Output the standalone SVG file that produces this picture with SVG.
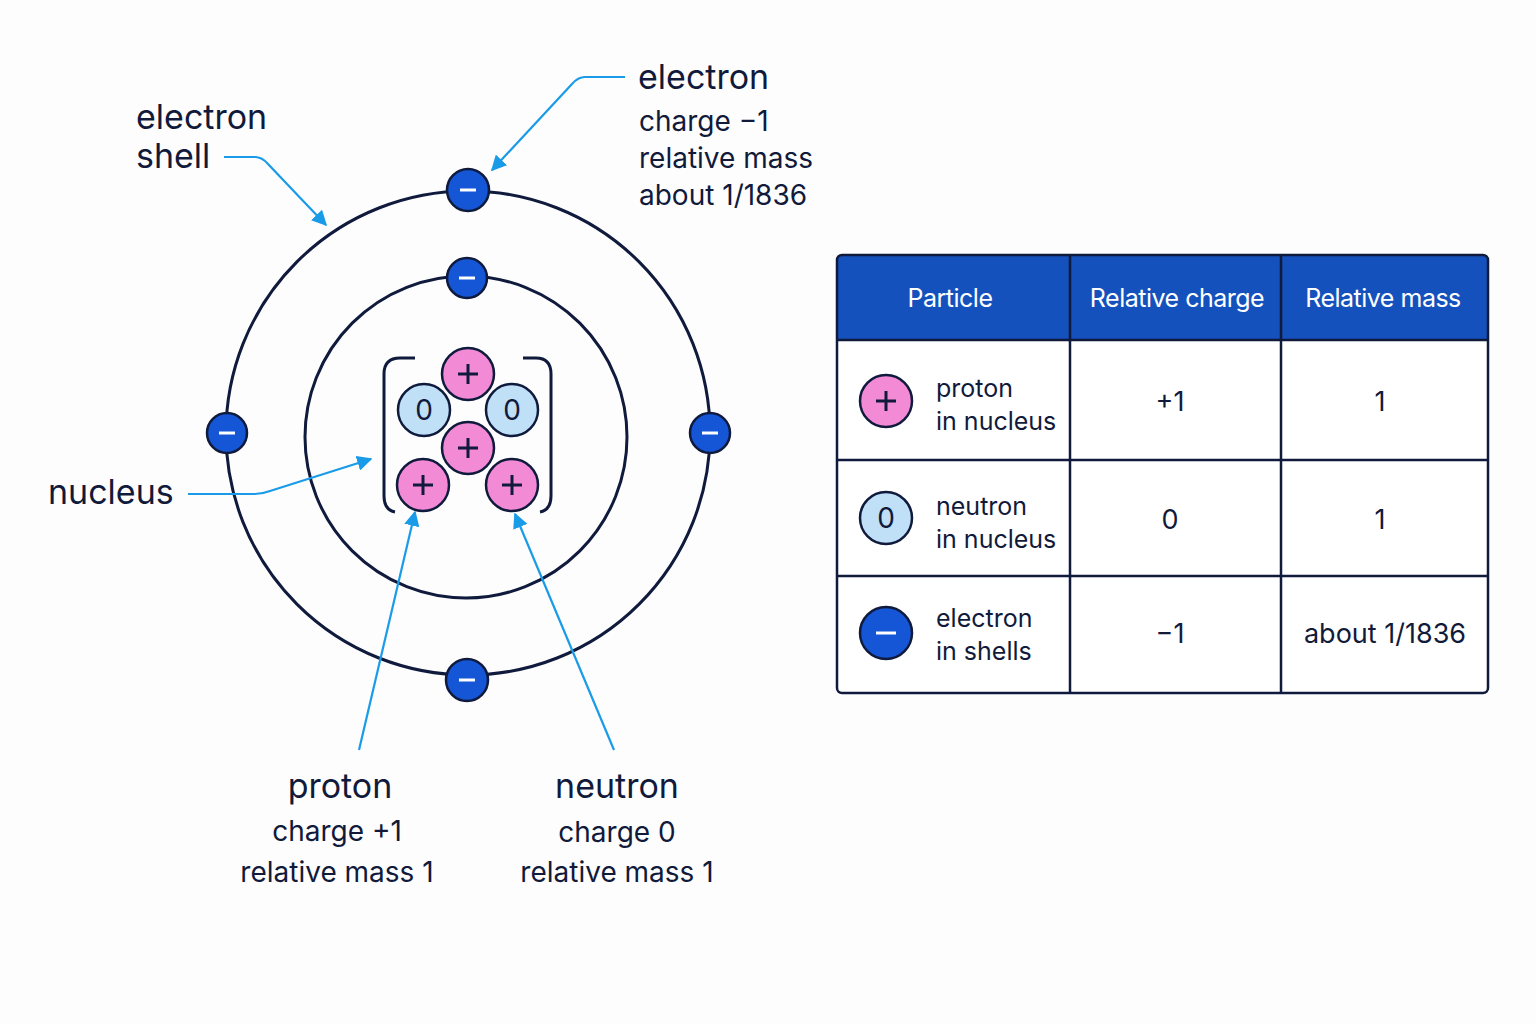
<svg xmlns="http://www.w3.org/2000/svg" width="1536" height="1024" viewBox="0 0 1536 1024">
<defs>
<marker id="ah" viewBox="0 0 10 10" refX="9" refY="5" markerWidth="7" markerHeight="7" orient="auto"><path d="M0,0 L10,5 L0,10 z" fill="#1a9be8"/></marker>
<style>
text{font-family:Inter,"Noto Sans",sans-serif;fill:#111a3a}
.t{font-size:34px}
.s{font-size:28px}
.orb{fill:none;stroke:#0f1a3c;stroke-width:3}
.el{fill:#1456d6;stroke:#0f1a3c;stroke-width:2.5}
.pr{fill:#f28ad6;stroke:#0f1a3c;stroke-width:2.5}
.ne{fill:#bfe0f7;stroke:#0f1a3c;stroke-width:2.5}
.sym{stroke:#0f1a3c;stroke-width:3;fill:none}
.plus{stroke:#111a3a;stroke-width:3}
.wsym{stroke:#fff;stroke-width:3}
.ptxt{font-size:28px;text-anchor:middle}
.con{fill:none;stroke:#1a9be8;stroke-width:2.2;marker-end:url(#ah)}
.grid{stroke:#0f1a3c;stroke-width:2.5;fill:none}
.hd{font-size:25px;fill:#fff;text-anchor:middle;letter-spacing:-0.5px}
.cell{font-size:27px;text-anchor:middle}
.lab{font-size:25px}
</style>
<path id="pl" d="M-10,0 H10 M0,-10 V10"/>
</defs>
<rect width="1536" height="1024" fill="#fdfdfe"/>
<g id="orbits">
<circle class="orb" cx="468" cy="433" r="242"/>
<circle class="orb" cx="466" cy="437" r="161"/>
</g>
<g id="electrons">
<circle class="el" cx="468" cy="190" r="21"/><line class="wsym" x1="460" y1="190" x2="476" y2="190"/>
<circle class="el" cx="467" cy="278" r="20"/><line class="wsym" x1="459" y1="278" x2="475" y2="278"/>
<circle class="el" cx="227" cy="433" r="20"/><line class="wsym" x1="219" y1="433" x2="235" y2="433"/>
<circle class="el" cx="710" cy="433" r="20"/><line class="wsym" x1="702" y1="433" x2="718" y2="433"/>
<circle class="el" cx="467" cy="680" r="21"/><line class="wsym" x1="459" y1="680" x2="475" y2="680"/>
</g>
<g id="nucleus">
<path class="sym" d="M415,358 L400,358 Q384,358 384,374 L384,496 Q384,510 395,512"/>
<path class="sym" d="M523,358 L536,358 Q551,358 551,374 L551,496 Q551,510 540,512"/>
<circle class="pr" cx="468" cy="374" r="26"/><use href="#pl" class="plus" x="468" y="374"/>
<circle class="ne" cx="424" cy="410" r="26"/><text class="ptxt" x="424" y="420">0</text>
<circle class="ne" cx="512" cy="410" r="26"/><text class="ptxt" x="512" y="420">0</text>
<circle class="pr" cx="468" cy="448" r="26"/><use href="#pl" class="plus" x="468" y="448"/>
<circle class="pr" cx="423" cy="485" r="26"/><use href="#pl" class="plus" x="423" y="485"/>
<circle class="pr" cx="512" cy="485" r="26"/><use href="#pl" class="plus" x="512" y="485"/>
</g>
<g id="connectors">
<path class="con" d="M224,157 L255,157 Q262,157 268,164 L326,225"/>
<path class="con" d="M625,77 L585,77 Q578,77 572,84 L492,170"/>
<path class="con" d="M188,494 L255,494 Q262,494 270,491 L371,459"/>
<path class="con" d="M359,750 L415,512"/>
<path class="con" d="M614,750 L515,514"/>
</g>
<g id="labels">
<text class="t" x="136" y="129">electron</text>
<text class="t" x="136" y="168">shell</text>
<text class="t" x="48" y="504">nucleus</text>
<text class="t" x="638" y="89">electron</text>
<text class="s" x="639" y="131">charge −1</text>
<text class="s" x="639" y="168">relative mass</text>
<text class="s" x="639" y="205">about 1/1836</text>
<text class="t" x="340" y="798" text-anchor="middle">proton</text>
<text class="s" x="337" y="841" text-anchor="middle">charge +1</text>
<text class="s" x="337" y="882" text-anchor="middle">relative mass 1</text>
<text class="t" x="617" y="798" text-anchor="middle">neutron</text>
<text class="s" x="617" y="842" text-anchor="middle">charge 0</text>
<text class="s" x="617" y="882" text-anchor="middle">relative mass 1</text>
</g>
<g id="table">
<rect x="837" y="255" width="651" height="438" rx="5" fill="#fff"/>
<path d="M842,255 L1483,255 Q1488,255 1488,260 L1488,340 L837,340 L837,260 Q837,255 842,255 z" fill="#1451bd"/>
<rect class="grid" x="837" y="255" width="651" height="438" rx="5"/>
<line class="grid" x1="837" y1="340" x2="1488" y2="340"/>
<line class="grid" x1="837" y1="460" x2="1488" y2="460"/>
<line class="grid" x1="837" y1="576" x2="1488" y2="576"/>
<line class="grid" x1="1070" y1="255" x2="1070" y2="693"/>
<line class="grid" x1="1281" y1="255" x2="1281" y2="693"/>
<text class="hd" x="950" y="307">Particle</text>
<text class="hd" x="1177" y="307">Relative charge</text>
<text class="hd" x="1383" y="307">Relative mass</text>
<circle class="pr" cx="886" cy="401" r="26"/><use href="#pl" class="plus" x="886" y="401"/>
<text class="lab" x="936" y="397">proton</text><text class="lab" x="936" y="430">in nucleus</text>
<text class="cell" x="1170" y="411">+1</text><text class="cell" x="1380" y="411">1</text>
<circle class="ne" cx="886" cy="518" r="26"/><text class="ptxt" x="886" y="528">0</text>
<text class="lab" x="936" y="515">neutron</text><text class="lab" x="936" y="548">in nucleus</text>
<text class="cell" x="1170" y="529">0</text><text class="cell" x="1380" y="529">1</text>
<circle class="el" cx="886" cy="633" r="26"/><line class="wsym" x1="876" y1="633" x2="896" y2="633"/>
<text class="lab" x="936" y="627">electron</text><text class="lab" x="936" y="660">in shells</text>
<text class="cell" x="1170" y="643">−1</text><text class="cell" x="1385" y="643">about 1/1836</text>
</g>
</svg>
